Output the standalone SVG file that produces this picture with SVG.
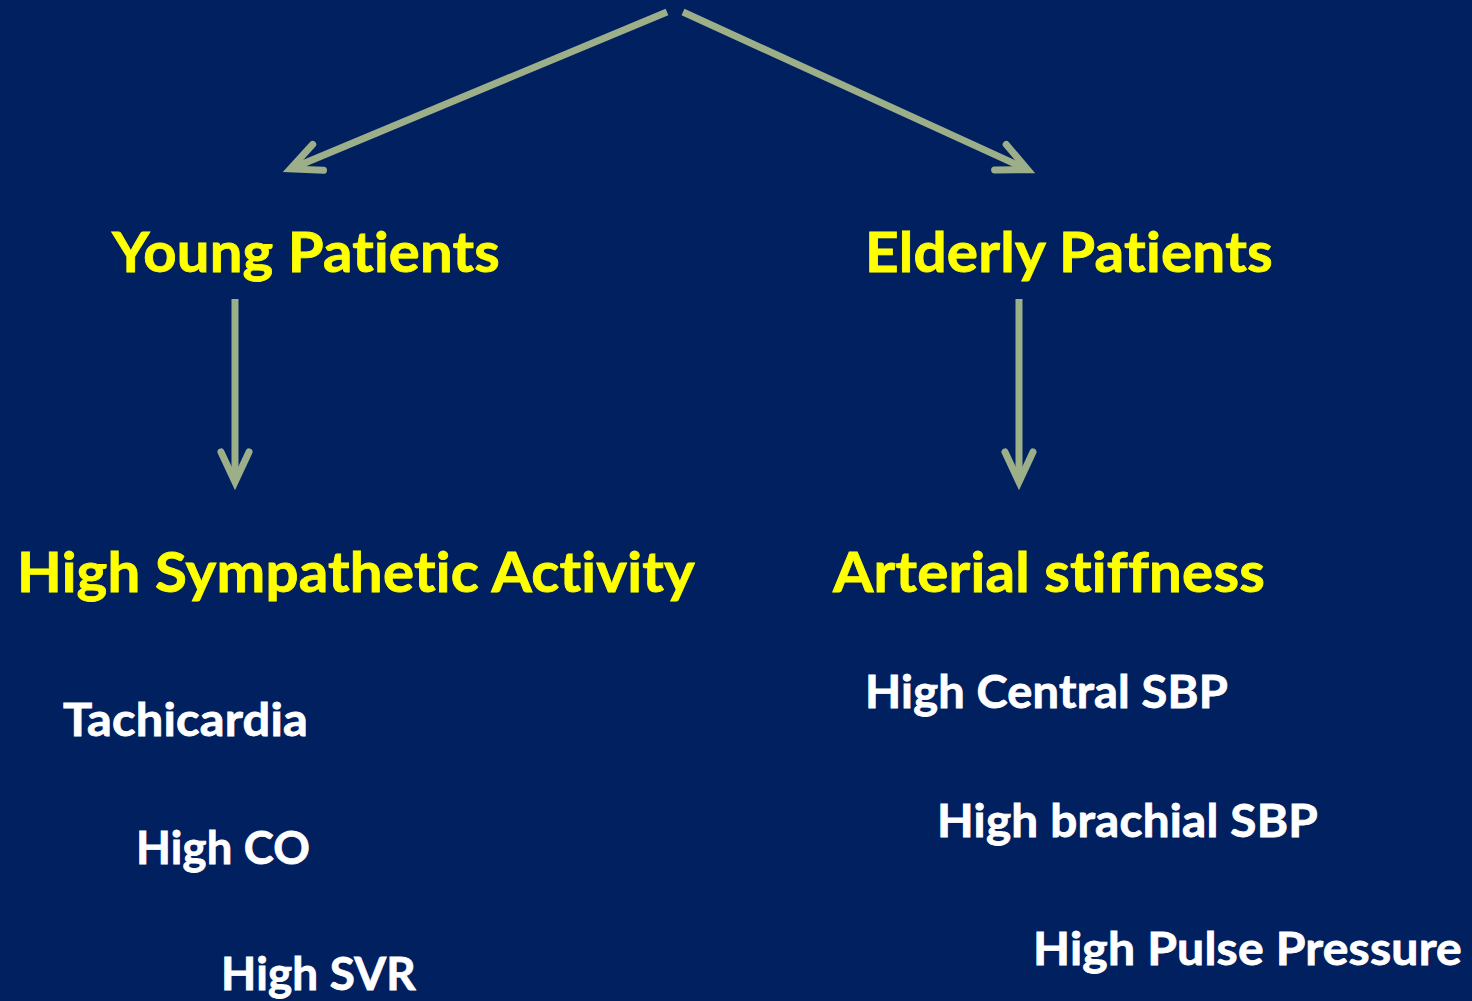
<svg xmlns="http://www.w3.org/2000/svg" width="1472" height="1001" viewBox="0 0 1472 1001">
  <style>
    .bg { fill: #002060; }
    .conn { stroke: #9DAF89; stroke-width: 7; fill: none; stroke-linecap: butt; }
    .head { stroke: #9DAF89; stroke-width: 7; fill: none; stroke-linecap: round; stroke-linejoin: miter; }
    .title, .item { font-family: Lato, "Open Sans", "Liberation Sans", sans-serif; font-weight: bold; font-variant-ligatures: none; font-feature-settings: "liga" 0, "clig" 0, "dlig" 0; letter-spacing: 0.2px; stroke-width: 0.8; }
    .title { font-size: 56px; fill: #FFFF00; stroke: #FFFF00; }
    .item { font-size: 45px; fill: #FFFFFF; stroke: #FFFFFF; }
  </style>
  <defs>
    <marker id="chevron" markerUnits="userSpaceOnUse" orient="auto" markerWidth="60" markerHeight="60" refX="0" refY="0" overflow="visible">
      <path class="head" d="M-30,-14 L0,0 L-30,14"/>
    </marker>
  </defs>

  <rect class="bg" x="0" y="0" width="1472" height="1001"/>

  <g id="connectors">
    <line class="conn" x1="667" y1="12" x2="290.4" y2="168.9" marker-end="url(#chevron)"/>
    <line class="conn" x1="683" y1="12" x2="1027.7" y2="169.7" marker-end="url(#chevron)"/>
    <line class="conn" x1="235" y1="299" x2="235" y2="482" marker-end="url(#chevron)"/>
    <line class="conn" x1="1019" y1="299" x2="1019" y2="482" marker-end="url(#chevron)"/>
  </g>

  <g id="young">
    <text class="title" x="112" y="272" textLength="388" lengthAdjust="spacingAndGlyphs">Young Patients</text>
  </g>
  <g id="elderly">
    <text class="title" x="865" y="272" textLength="408" lengthAdjust="spacingAndGlyphs">Elderly Patients</text>
  </g>
  <g id="sympathetic">
    <text class="title" x="17" y="592" textLength="678" lengthAdjust="spacingAndGlyphs">High Sympathetic Activity</text>
  </g>
  <g id="stiffness">
    <text class="title" x="833" y="592" textLength="432" lengthAdjust="spacingAndGlyphs">Arterial stiffness</text>
  </g>

  <g id="young-effects">
    <text class="item" x="63" y="736" textLength="245" lengthAdjust="spacingAndGlyphs">Tachicardia</text>
    <text class="item" x="136" y="864" textLength="174" lengthAdjust="spacingAndGlyphs">High CO</text>
    <text class="item" x="221" y="990" textLength="195" lengthAdjust="spacingAndGlyphs">High SVR</text>
  </g>
  <g id="elderly-effects">
    <text class="item" x="865" y="708" textLength="363" lengthAdjust="spacingAndGlyphs">High Central SBP</text>
    <text class="item" x="937" y="837" textLength="381" lengthAdjust="spacingAndGlyphs">High brachial SBP</text>
    <text class="item" x="1033" y="965" textLength="429" lengthAdjust="spacingAndGlyphs">High Pulse Pressure</text>
  </g>
</svg>
